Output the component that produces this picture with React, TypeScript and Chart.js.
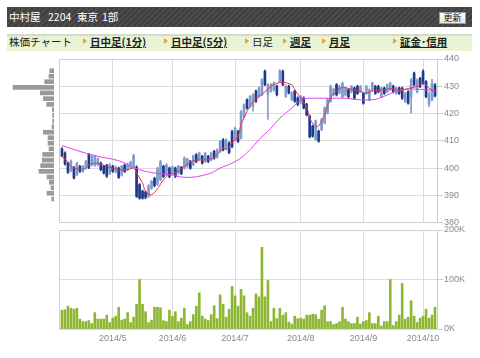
import React, { useEffect, useRef } from "react";
import { Chart, registerables } from "chart.js";
Chart.register(...registerables);

// ---- x axis: trading-day index, month gridlines ----
const monthTickIdx = [17, 37, 58, 80, 101, 121];
const monthTickLabels = ["2014/5", "2014/6", "2014/7", "2014/8", "2014/9", "2014/10"];

// ---- daily OHLC (yen) ----
const opens = [
  407, 405.5, 401.8, 399, 400.2, 397.6, 400.6, 398.8, 400, 405,
  401.2, 401, 401.2, 401.8, 400.6, 401, 398, 400.6, 398.6, 400,
  397.4, 401, 399.4, 400.2, 400.6, 400.4, 393.9, 391.5, 391.2, 389.6,
  392.6, 396.2, 394, 395.7, 400.6, 397.6, 400, 398, 400, 398.2,
  400.2, 400, 400.6, 402.4, 401.2, 404.9, 403, 404.3, 402.4, 404.3,
  403, 406.1, 404, 406.1, 410.4, 407.3, 409.2, 413.4, 410.4, 413.4,
  411, 418.9, 425, 422.5, 422.7, 428.2, 426.3, 426.9, 435.5, 427,
  428.2, 428.6, 430, 431.8, 435.5, 426.3, 430, 425.1, 428.2, 425.7,
  423.9, 425.7, 423.3, 419, 415.4, 410.5, 413.5, 414.1, 416.6, 420.2,
  424.5, 426.9, 430.6, 427.6, 426.2, 426.8, 428.7, 428, 429.3, 429.9,
  428, 427.4, 427.4, 425, 428.7, 429.9, 429.9, 426.2, 429.3, 428,
  428.7, 430, 427.4, 429.3, 429.3, 424.4, 428, 426.2, 434.8, 428,
  432.9, 435.4, 431.7, 423.5, 425, 430.5,
];
const highs = [
  407.5, 406, 402.2, 403, 400.6, 402.2, 401, 401, 402.8, 405.4,
  404.7, 404.8, 403.8, 402.2, 401, 401.4, 401.6, 401, 400.8, 400.4,
  401, 401.4, 401.8, 402.6, 405, 400.8, 394.3, 391.9, 391.6, 393.9,
  395.5, 396.6, 400.4, 402.8, 401, 401.6, 400.4, 400.8, 400.4, 401,
  400.6, 404.1, 403.7, 402.8, 404.9, 405.3, 405.9, 404.7, 405.9, 404.7,
  405.9, 406.5, 407.1, 410.2, 410.8, 410.8, 409.6, 413.8, 415, 413.8,
  421.1, 423.6, 425.4, 426.6, 427.3, 428.6, 429.8, 432.8, 435.9, 431,
  431, 431.6, 430.4, 436.1, 435.9, 430.4, 430.4, 428, 428.6, 426.1,
  426.7, 426.1, 423.7, 419.4, 415.8, 417.6, 413.9, 418.2, 422.5, 425.5,
  430.4, 429.2, 431, 430.4, 431.5, 429.7, 429.1, 430.3, 429.7, 430.3,
  430.3, 427.8, 430.3, 429.1, 431.5, 430.3, 430.3, 429.7, 429.7, 430.9,
  431.5, 430.4, 429.7, 429.7, 429.7, 427.8, 428.4, 432.9, 435.2, 432.7,
  433.3, 436, 432.1, 428, 432.5, 431,
];
const lows = [
  404.1, 401.1, 398, 398.6, 396, 397.2, 398.4, 398.4, 399.6, 399.8,
  400.8, 400.6, 400.8, 399, 397.8, 396.6, 397.6, 398.4, 398.2, 396.2,
  397, 398.4, 399, 399.8, 400.2, 389.2, 388.6, 388.6, 388.8, 389.2,
  392.2, 393.2, 393.6, 395.3, 396.5, 397.2, 396.5, 397.6, 396.5, 397.8,
  397.6, 399.6, 400.2, 399.6, 400.8, 402, 402.6, 401.4, 402, 402,
  402.6, 403.3, 403.6, 405.7, 406.3, 406.9, 405.3, 407.5, 410, 409.4,
  410.6, 418.5, 421.6, 422.1, 420.9, 424.1, 425.9, 426.5, 430.2, 417.8,
  427.8, 428.2, 426.5, 431.4, 430.2, 425.9, 427.2, 424.7, 424.1, 422.9,
  423.5, 421.7, 419.1, 411.1, 411.3, 410.1, 409.5, 413.7, 416.2, 419.8,
  424.1, 426.5, 426.5, 427.2, 425.8, 426.4, 425.8, 427.6, 425.2, 427,
  427.6, 423.4, 427, 424.6, 428.3, 427, 427.6, 425.8, 427, 427.6,
  428.3, 427.6, 427, 427, 425.2, 424, 423.4, 420.1, 430.1, 427.6,
  429.5, 430.7, 425.8, 422.5, 424.6, 426.1,
];
const closes = [
  404.5, 401.5, 398.4, 402.5, 396.4, 401.8, 398.8, 400.6, 402.4, 400.2,
  404.3, 404.4, 403.4, 399.4, 398.2, 397, 401.2, 398.8, 400.4, 396.6,
  400.6, 398.8, 401.4, 402.2, 404.6, 389.6, 389, 389, 389.2, 393.5,
  395.1, 393.6, 400, 402.4, 396.9, 401.2, 396.9, 400.4, 396.9, 400.6,
  398, 403.7, 403.3, 400, 404.5, 402.4, 405.5, 401.8, 405.5, 402.4,
  405.5, 403.7, 406.7, 409.8, 406.7, 410.4, 405.7, 407.9, 414.6, 409.8,
  420.7, 423.2, 422, 426.2, 426.9, 424.5, 429.4, 432.4, 430.6, 430.6,
  430.6, 431.2, 426.9, 435.7, 430.6, 430, 427.6, 427.6, 424.5, 423.3,
  426.3, 422.1, 419.5, 411.5, 411.7, 417.2, 409.9, 417.8, 422.1, 425.1,
  430, 428.8, 426.9, 430, 431.1, 429.3, 426.2, 429.9, 425.6, 427.4,
  429.9, 423.8, 429.9, 428.7, 431.1, 427.4, 428, 429.3, 427.4, 430.5,
  431.1, 428, 429.3, 427.4, 425.6, 427.4, 423.8, 432.3, 430.5, 432.3,
  429.9, 431.1, 426.2, 427, 431, 426.5,
];

// ---- daily volume (thousand shares) ----
const volumes = [
  38, 39, 46, 42, 40, 42, 20, 15, 15, 17,
  11, 33, 20, 20, 20, 28, 13, 22, 26, 44,
  18, 20, 33, 13, 24, 50, 100, 50, 35, 13,
  18, 44, 44, 43, 17, 15, 38, 26, 35, 15,
  22, 42, 9, 15, 29, 46, 73, 26, 20, 17,
  29, 47, 21, 69, 50, 24, 40, 86, 67, 46,
  80, 67, 33, 26, 42, 71, 65, 165, 65, 98,
  15, 42, 21, 42, 28, 33, 14, 10, 26, 21,
  22, 20, 28, 28, 30, 29, 20, 38, 47, 15,
  15, 9, 11, 15, 44, 20, 15, 11, 11, 24,
  10, 15, 17, 33, 11, 11, 26, 6, 15, 15,
  100, 7, 15, 28, 92, 20, 24, 57, 26, 13,
  22, 26, 40, 22, 28, 44,
];

// ---- moving averages (day index -> yen) ----
const maShortIdx = [0, 2, 3, 6, 8, 9, 12, 13, 15, 17, 19, 22, 24, 25, 27, 28, 30, 32, 34, 36, 39, 41, 43, 45, 48, 50, 52, 54, 55, 57, 59, 60, 62, 64, 66, 68, 70, 72, 74, 77, 78, 80, 82, 83, 85, 86, 88, 90, 92, 94, 96, 98, 100, 102, 104, 107, 109, 111, 113, 116, 118, 120, 121, 123, 125];
const maShortVal = [404.3, 402.2, 400.6, 399.4, 400, 401.2, 401.8, 401.5, 400.6, 400, 399.4, 399.4, 400, 398.2, 394.5, 391.4, 390.2, 392.4, 395.7, 397.6, 398.8, 400.6, 402.2, 403, 403, 403.4, 404.9, 407.3, 406.7, 409.2, 411.6, 415.9, 420.7, 424.4, 426.2, 428, 429.9, 431.1, 431.5, 430.5, 428.7, 425.6, 422.6, 418.3, 415.2, 415.4, 419.6, 425.7, 428.3, 429.6, 429.2, 428.6, 428.2, 427.4, 428.3, 428.6, 429, 429.1, 428.2, 429.2, 429.6, 430.5, 431.3, 429.3, 428];
const maLongIdx = [0, 6, 12, 19, 24, 28, 33, 36, 41, 45, 50, 53, 57, 60, 63, 66, 70, 73, 77, 80, 83, 89, 95, 100, 105, 109, 112, 116, 121, 125];
const maLongVal = [408.3, 406.1, 404.3, 402.7, 400.2, 398.8, 397.9, 397.6, 396.6, 396.8, 398.2, 400, 401.8, 403.7, 406.7, 410.4, 414.6, 418.3, 422, 425, 425.6, 425.6, 425.6, 425, 425.2, 426.8, 428.2, 429, 428.8, 428.5];

// ---- volume-by-price profile (left side) ----
const profilePrices = [388.8, 390.9, 392.9, 394.9, 396.8, 398.9, 401, 403, 405.1, 407.1, 409.2, 411.2, 413.2, 415.2, 417.3, 419.4, 421.5, 423.4, 425.5, 427.6, 429.6, 431.7, 433.7, 435.7];
const profileVolumes = [2.3, 7, 3, 4.7, 7, 15, 13.3, 11.7, 11.3, 5, 6, 6, 10.7, 2, 1.3, 1.3, 1.7, 7.3, 10.7, 13.7, 41, 9.3, 5, 4.3];

const FONT = '"Liberation Sans", Arial, sans-serif';
const JP = '"Noto Sans CJK JP", sans-serif';
const UP = "#7f9dcc";
const DOWN = "#1f3a8c";
const GRID = "#dcdcdc";
const TICK = "#888888";

const framePlugin = {
  id: "frame",
  beforeDatasetsDraw(chart: any) {
    const { ctx, chartArea } = chart;
    const { left, top, right, bottom } = chartArea;
    ctx.save();
    ctx.strokeStyle = "#cfcfcf";
    ctx.lineWidth = 1;
    ctx.strokeRect(Math.round(left) + 0.5, Math.round(top) + 0.5, Math.round(right - left) - 1, Math.round(bottom - top) - 1);
    ctx.restore();
  },
};

const xAxis = (showLabels: boolean) => ({
  type: "linear" as const,
  min: -1,
  max: 126,
  offset: false,
  bounds: "data" as const,
  afterBuildTicks: (ax: any) => {
    ax.ticks = monthTickIdx.map((v) => ({ value: v }));
  },
  grid: { color: GRID, drawTicks: false, lineWidth: 1, offset: false },
  border: { display: false },
  ticks: showLabels
    ? {
        display: true,
        autoSkip: false,
        maxRotation: 0,
        padding: 4,
        color: TICK,
        font: { size: 9, family: FONT },
        callback: (v: any) => {
          const k = monthTickIdx.indexOf(Number(v));
          return k >= 0 ? monthTickLabels[k] : "";
        },
      }
    : { display: false },
  afterFit: (s: any) => {
    s.height = showLabels ? 20 : 0;
  },
});

export default function App() {
  const priceRef = useRef<HTMLCanvasElement>(null);
  const volRef = useRef<HTMLCanvasElement>(null);
  const profRef = useRef<HTMLCanvasElement>(null);

  useEffect(() => {
    const candleColors = opens.map((o, i) => (closes[i] >= o ? UP : DOWN));

    const price = new Chart(priceRef.current!, {
      type: "bar",
      data: {
        datasets: [
          {
            type: "line",
            data: maShortIdx.map((x, k) => ({ x, y: maShortVal[k] })),
            borderColor: "#e8324f",
            borderWidth: 1,
            pointRadius: 0,
            tension: 0.3,
            order: 0,
          } as any,
          {
            type: "line",
            data: maLongIdx.map((x, k) => ({ x, y: maLongVal[k] })),
            borderColor: "#e043f2",
            borderWidth: 1,
            pointRadius: 0,
            tension: 0.3,
            order: 0,
          } as any,
          {
            type: "bar",
            data: opens.map((o, i) => ({ x: i, y: [o, closes[i]] })),
            backgroundColor: candleColors,
            barThickness: 2,
            grouped: false,
            order: 1,
          } as any,
          {
            type: "bar",
            data: lows.map((l, i) => ({ x: i, y: [l, highs[i]] })),
            backgroundColor: candleColors,
            barThickness: 1,
            grouped: false,
            order: 2,
          } as any,
        ],
      },
      options: {
        animation: false,
        responsive: false,
        events: [],
        layout: { padding: { top: 9, left: 9, right: 0, bottom: 6 } },
        plugins: { legend: { display: false }, tooltip: { enabled: false } },
        scales: {
          x: xAxis(false) as any,
          y: {
            position: "right",
            min: 380,
            max: 440,
            bounds: "data",
            ticks: { stepSize: 10, color: TICK, font: { size: 9, family: FONT }, padding: 1 },
            grid: { color: GRID, tickLength: 5, tickColor: "#cccccc" },
            border: { display: false },
            afterFit: (s: any) => {
              s.width = 42;
            },
          } as any,
        },
      },
      plugins: [framePlugin],
    });

    const vol = new Chart(volRef.current!, {
      type: "bar",
      data: {
        datasets: [
          {
            data: volumes.map((v, i) => ({ x: i, y: v })),
            backgroundColor: "#8db733",
            barThickness: 2,
          },
        ],
      },
      options: {
        animation: false,
        responsive: false,
        events: [],
        layout: { padding: { top: 10, left: 9, right: 0, bottom: 9 } },
        plugins: { legend: { display: false }, tooltip: { enabled: false } },
        scales: {
          x: xAxis(true) as any,
          y: {
            position: "right",
            min: 0,
            max: 200,
            bounds: "data",
            ticks: {
              stepSize: 100,
              color: TICK,
              font: { size: 9, family: FONT },
              padding: 1,
              callback: (v: any) => `${v}K`,
            },
            grid: { color: GRID, tickLength: 5, tickColor: "#cccccc" },
            border: { display: false },
            afterFit: (s: any) => {
              s.width = 42;
            },
          } as any,
        },
      },
      plugins: [framePlugin],
    });

    const prof = new Chart(profRef.current!, {
      type: "bar",
      data: {
        datasets: [
          {
            data: profilePrices.map((p, k) => ({ x: profileVolumes[k], y: p })),
            backgroundColor: "#9a9a9a",
            barThickness: 4,
          },
        ],
      },
      options: {
        indexAxis: "y",
        animation: false,
        responsive: false,
        events: [],
        layout: { padding: { top: 9, left: 0, right: 5, bottom: 6 } },
        plugins: { legend: { display: false }, tooltip: { enabled: false } },
        scales: {
          x: { type: "linear", reverse: true, min: 0, max: 54, display: false },
          y: { type: "linear", min: 380, max: 440, offset: false, display: false },
        },
      },
    });

    return () => {
      price.destroy();
      vol.destroy();
      prof.destroy();
    };
  }, []);

  const navItem = (left: number, text: string, link: boolean) => (
    <React.Fragment key={text}>
      <span
        style={{
          position: "absolute",
          left: left - 7,
          top: 38,
          width: 0,
          height: 0,
          borderLeft: "4px solid #f0a030",
          borderTop: "3px solid transparent",
          borderBottom: "3px solid transparent",
        }}
      />
      <span
        style={{
          position: "absolute",
          left,
          top: 35,
          fontFamily: JP,
          fontSize: 10.5,
          lineHeight: "14px",
          color: "#222",
          fontWeight: link ? 700 : 400,
          textDecoration: link ? "underline" : "none",
          whiteSpace: "nowrap",
        }}
      >
        {text}
      </span>
    </React.Fragment>
  );

  return (
    <div style={{ position: "absolute", left: 0, top: 0, width: 480, height: 358, background: "#fff", overflow: "hidden" }}>
      {/* title bar */}
      <div
        style={{
          position: "absolute",
          left: 7,
          top: 7,
          width: 465,
          height: 20,
          background: "repeating-linear-gradient(135deg, #4c4c4c 0px, #4c4c4c 2px, #3f3f3f 2px, #3f3f3f 4px)",
        }}
      />
      {[
        [9, "中村屋"],
        [48, "2204"],
        [77, "東京"],
        [102, "1部"],
      ].map(([l, t]) => (
        <span
          key={String(t)}
          style={{
            position: "absolute",
            left: l as number,
            top: 10,
            color: "#fff",
            fontFamily: JP,
            fontSize: 10.5,
            lineHeight: "14px",
            whiteSpace: "nowrap",
          }}
        >
          {t}
        </span>
      ))}
      <div
        style={{
          position: "absolute",
          left: 439,
          top: 12,
          width: 25,
          height: 10,
          background: "linear-gradient(#ffffff, #e6e6e6)",
          border: "1px solid #999",
          fontFamily: JP,
          fontSize: 9,
          lineHeight: "10px",
          textAlign: "center",
          color: "#111",
        }}
      >
        更新
      </div>

      {/* nav bar */}
      <div
        style={{
          position: "absolute",
          left: 7,
          top: 34,
          width: 465,
          height: 15,
          background: "#e9f4d6",
          borderTop: "2px solid #d2dcc6",
        }}
      />
      <span
        style={{
          position: "absolute",
          left: 9,
          top: 35,
          fontFamily: JP,
          fontSize: 10.5,
          lineHeight: "14px",
          color: "#222",
          whiteSpace: "nowrap",
        }}
      >
        株価チャート
      </span>
      {navItem(90, "日中足(1分)", true)}
      {navItem(171, "日中足(5分)", true)}
      {navItem(252, "日足", false)}
      {navItem(290, "週足", true)}
      {navItem(329, "月足", true)}
      {navItem(400, "証金･信用", true)}

      {/* charts */}
      <canvas ref={profRef} width={59} height={179} style={{ position: "absolute", left: 0, top: 50 }} />
      <canvas ref={priceRef} width={430} height={179} style={{ position: "absolute", left: 50, top: 50 }} />
      <canvas ref={volRef} width={430} height={138} style={{ position: "absolute", left: 50, top: 220 }} />
    </div>
  );
}
